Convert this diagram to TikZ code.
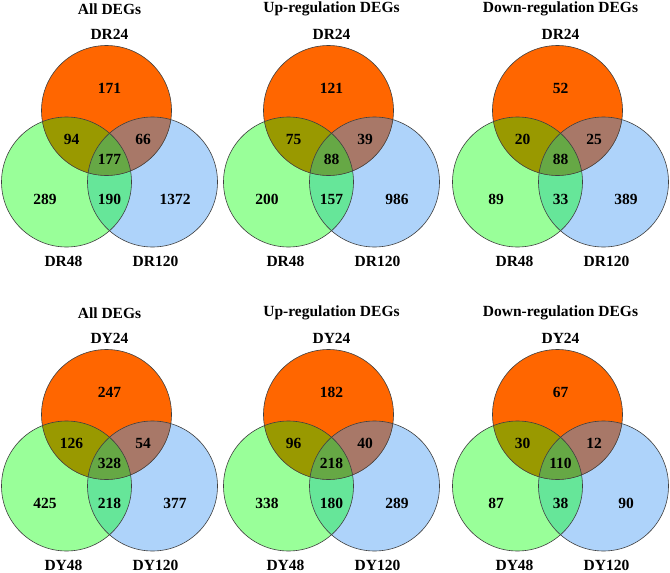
\documentclass[tikz,border=0pt]{standalone}
\usepackage{fontspec}
\setmainfont{Liberation Serif}
\definecolor{orangeC}{HTML}{FF6600}
\definecolor{greenC}{HTML}{99FF99}
\definecolor{blueC}{HTML}{AED3FA}
\definecolor{ogC}{HTML}{999900}
\definecolor{obC}{HTML}{A87868}
\definecolor{gbC}{HTML}{66E699}
\definecolor{ogbC}{HTML}{66A845}
\begin{document}
\begin{tikzpicture}[x=1pt,y=-1pt,
  lbl/.style={font=\fontsize{15.5}{18}\selectfont\bfseries, inner sep=0pt, text=black},
  ring/.style={draw=black!75, line width=0.6pt}]
\useasboundingbox (0,0) rectangle (670,573);
\fill[white] (0,0) rectangle (670,573);
\foreach \cx/\cy/\t/\p/\s/\a/\b/\c/\d/\e/\f/\id in {
  109.5/110.5/All DEGs/DR/171/94/66/177/289/190/1372/pa,
  331.5/110.5/Up-regulation DEGs/DR/121/75/39/88/200/157/986/pb,
  560.5/110.5/Down-regulation DEGs/DR/52/20/25/88/89/33/389/pc,
  109.5/414.5/All DEGs/DY/247/126/54/328/425/218/377/pd,
  331.5/414.5/Up-regulation DEGs/DY/182/96/40/218/338/180/289/pe,
  560.5/414.5/Down-regulation DEGs/DY/67/30/12/110/87/38/90/pf}
{
  \coordinate (\id o) at ({\cx-3},{\cy});
  \coordinate (\id g) at ({\cx-43},{\cy+71.5});
  \coordinate (\id b) at ({\cx+43},{\cy+71.5});
  \fill[greenC] (\id g) circle[radius=65];
  \fill[blueC] (\id b) circle[radius=65];
  \fill[orangeC] (\id o) circle[radius=65];
  \begin{scope}
    \clip (\id g) circle[radius=65];
    \fill[gbC] (\id b) circle[radius=65];
  \end{scope}
  \begin{scope}
    \clip (\id o) circle[radius=65];
    \fill[ogC] (\id g) circle[radius=65];
    \fill[obC] (\id b) circle[radius=65];
    \clip (\id g) circle[radius=65];
    \fill[ogbC] (\id b) circle[radius=65];
  \end{scope}
  \draw[ring] (\id o) circle[radius=65];
  \draw[ring] (\id g) circle[radius=65];
  \draw[ring] (\id b) circle[radius=65];
  \node[lbl] (\id title) at ({\cx},{\cy-101.5}) {\t};
  \node[lbl] (\id top) at ({\cx},{\cy-76.5}) {\p24};
  \node[lbl] (\id left) at ({\cx-46},{\cy+151}) {\p48};
  \node[lbl] (\id right) at ({\cx+46},{\cy+151}) {\p120};
  \node[lbl] (\id n1) at ({\cx},{\cy-22.5}) {\s};
  \node[lbl] (\id n2) at ({\cx-38},{\cy+28.5}) {\a};
  \node[lbl] (\id n3) at ({\cx+33.5},{\cy+28.5}) {\b};
  \node[lbl] (\id n4) at ({\cx},{\cy+48.5}) {\c};
  \node[lbl] (\id n5) at ({\cx-64.5},{\cy+88.5}) {\d};
  \node[lbl] (\id n6) at ({\cx},{\cy+88.5}) {\e};
  \node[lbl] (\id n7) at ({\cx+65.5},{\cy+88.5}) {\f};
}
\end{tikzpicture}
\end{document}
